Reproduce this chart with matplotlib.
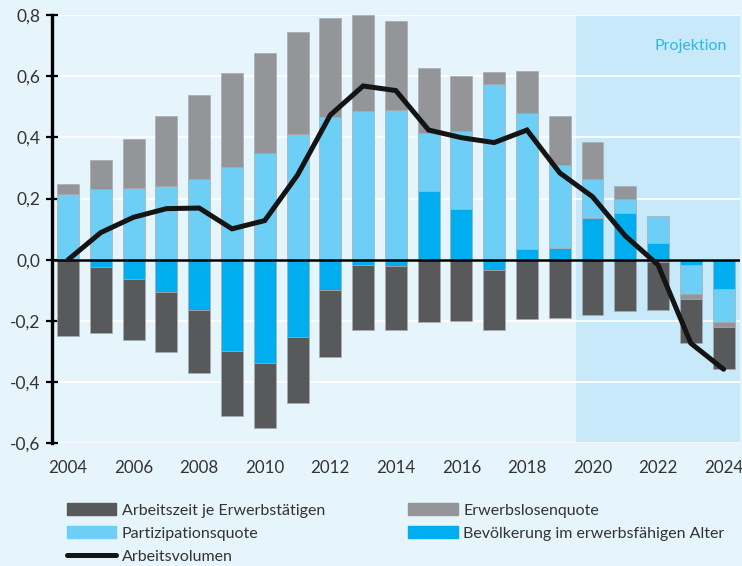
import numpy as np
import matplotlib
matplotlib.use("Agg")
import matplotlib.pyplot as plt
from matplotlib.patches import Patch
from matplotlib.lines import Line2D

plt.rcParams['font.family'] = ['Lato', 'DejaVu Sans']

# Beiträge zum Wachstum des Arbeitsvolumens (Prozentpunkte)
jahre = np.arange(2004, 2025)
bevoelkerung = [0.0, -0.025, -0.063, -0.107, -0.164, -0.297, -0.338, -0.252, -0.100, -0.016,
                -0.020, 0.226, 0.167, -0.033, 0.035, 0.038, 0.135, 0.154, 0.055, -0.016, -0.097]
partizipation = [0.215, 0.232, 0.233, 0.242, 0.264, 0.303, 0.349, 0.412, 0.465, 0.486,
                 0.489, 0.188, 0.254, 0.574, 0.444, 0.271, 0.129, 0.044, 0.088, -0.095, -0.107]
erwerbslosen = [0.031, 0.093, 0.163, 0.227, 0.273, 0.306, 0.327, 0.332, 0.325, 0.313,
                0.291, 0.214, 0.179, 0.039, 0.139, 0.160, 0.122, 0.043, -0.008, -0.016, -0.015]
arbeitszeit = [-0.250, -0.216, -0.199, -0.196, -0.205, -0.213, -0.212, -0.215, -0.219, -0.215,
               -0.210, -0.205, -0.201, -0.198, -0.195, -0.191, -0.182, -0.168, -0.157, -0.145, -0.138]
arbeitsvolumen = [0.0, 0.089, 0.139, 0.167, 0.169, 0.101, 0.128, 0.277, 0.473, 0.568,
                  0.553, 0.424, 0.399, 0.383, 0.424, 0.284, 0.206, 0.078, -0.017, -0.273, -0.358]

reihen = [
    ("Bevölkerung im erwerbsfähigen Alter", bevoelkerung, "#00aeef"),
    ("Partizipationsquote", partizipation, "#6dcff6"),
    ("Erwerbslosenquote", erwerbslosen, "#939598"),
    ("Arbeitszeit je Erwerbstätigen", arbeitszeit, "#58595b"),
]

bg = "#e6f4fc"
fig = plt.figure(figsize=(7.42, 5.66), dpi=100, facecolor=bg)
ax = fig.add_axes([0.0697, 0.2168, 0.9276, 0.7567])
ax.set_facecolor(bg)

# Projektionszeitraum hinterlegen
ax.axvspan(2019.5, 2024.5, color="#c7e9f9", zorder=0, lw=0)
ax.text(2024.1, 0.70, "Projektion", color="#2db6ea", fontsize=11.5,
        ha="right", va="center", zorder=1)

for y in np.arange(-0.6, 0.81, 0.2):
    ax.axhline(y, color="white", lw=1.3, zorder=1)

pos_base = np.zeros(len(jahre))
neg_base = np.zeros(len(jahre))
for name, werte, farbe in reihen:
    werte = np.array(werte)
    base = np.where(werte >= 0, pos_base, neg_base)
    ax.bar(jahre, werte, bottom=base, width=0.67, color=farbe,
           edgecolor="#a9acb0", linewidth=0.5, zorder=2)
    pos_base += np.clip(werte, 0, None)
    neg_base += np.clip(werte, None, 0)

ax.axhline(0, color="black", lw=1.8, zorder=3)
ax.plot(jahre, arbeitsvolumen, color="#141414", lw=3.6, zorder=4,
        solid_capstyle="round", solid_joinstyle="miter")

ax.set_xlim(2003.5, 2024.5)
ax.set_ylim(-0.6, 0.8)
ax.set_yticks(np.arange(-0.6, 0.81, 0.2))
ax.set_yticklabels([f"{v:.1f}".replace(".", ",").replace("-0,0", "0,0")
                    for v in np.arange(-0.6, 0.81, 0.2)])
ax.set_xticks(np.arange(2004, 2025, 2))
ax.tick_params(axis="y", direction="inout", length=8, width=1.6,
               labelsize=12.5, colors="black", labelcolor="#333333", pad=4)
ax.tick_params(axis="x", length=0, labelsize=12.2, labelcolor="#333333", pad=12)
for s in ["top", "right", "bottom"]:
    ax.spines[s].set_visible(False)
ax.spines["left"].set_linewidth(2.4)
ax.spines["left"].set_zorder(5)

farben = {n: f for n, _, f in reihen}
handles = [
    Patch(color=farben["Arbeitszeit je Erwerbstätigen"], label="Arbeitszeit je Erwerbstätigen"),
    Patch(color=farben["Partizipationsquote"], label="Partizipationsquote"),
    Line2D([], [], color="#141414", lw=3.6, solid_capstyle="round", label="Arbeitsvolumen"),
    Patch(color=farben["Erwerbslosenquote"], label="Erwerbslosenquote"),
    Patch(color=farben["Bevölkerung im erwerbsfähigen Alter"], label="Bevölkerung im erwerbsfähigen Alter"),
]
fig.legend(handles=handles, ncol=2, loc="upper left", bbox_to_anchor=(0.09, 0.111),
           frameon=False, fontsize=11.5, handlelength=3.1, handleheight=0.75,
           handletextpad=0.35, columnspacing=5.2, labelspacing=0.55,
           borderaxespad=0, borderpad=0, labelcolor="#333333")

fig.savefig("out.png", dpi=100, facecolor=bg)
